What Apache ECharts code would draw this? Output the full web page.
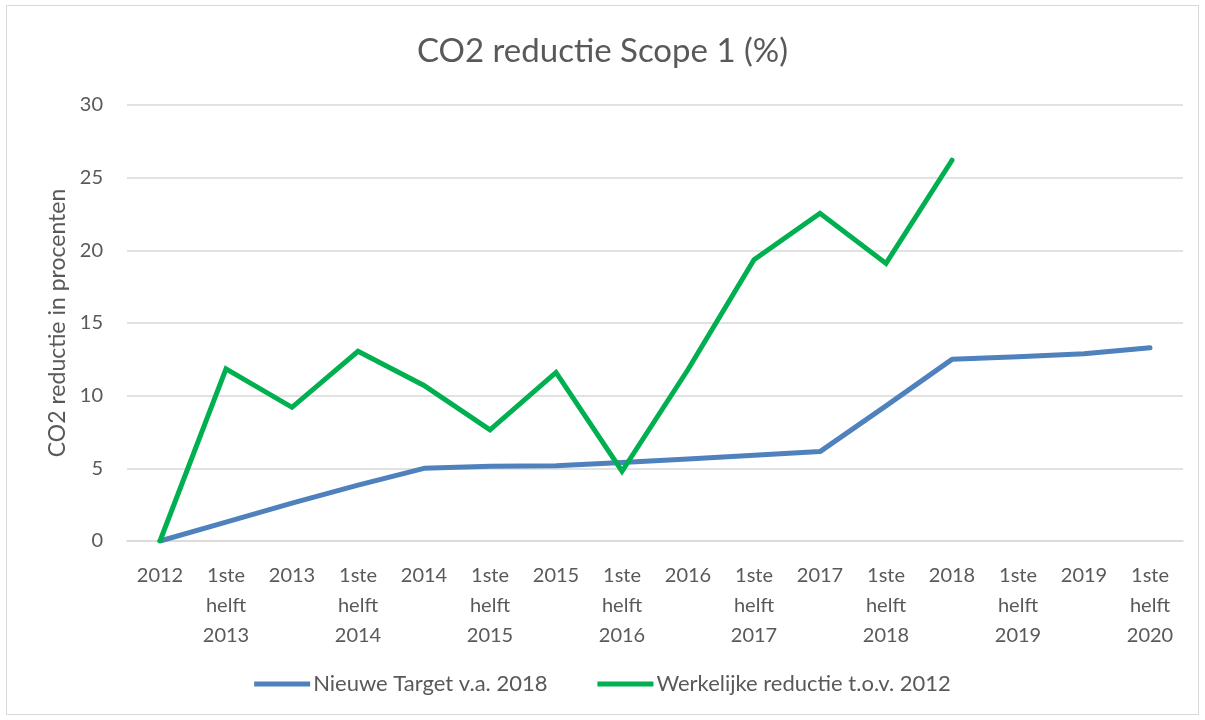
<!DOCTYPE html>
<html>
<head>
<meta charset="utf-8">
<script src="https://cdn.jsdelivr.net/npm/echarts@6/dist/echarts.min.js"></script>
<style>
html,body{margin:0;padding:0;background:#fff;}
#wrap{position:absolute;left:6px;top:5px;width:1193px;height:710px;border:1px solid #d9d9d9;box-sizing:border-box;}
#chart{position:absolute;left:0;top:0;width:1205px;height:720px;}
</style>
</head>
<body>
<div id="wrap"></div>
<div id="chart"></div>
<script>
const categories = ['2012','1ste helft 2013','2013','1ste helft 2014','2014','1ste helft 2015','2015','1ste helft 2016','2016','1ste helft 2017','2017','1ste helft 2018','2018','1ste helft 2019','2019','1ste helft 2020'];
const targetValues = [0, 1.3, 2.6, 3.85, 5.0, 5.15, 5.18, 5.4, 5.65, 5.9, 6.15, 9.3, 12.5, 12.68, 12.88, 13.3];
const actualValues = [0, 11.85, 9.2, 13.05, 10.7, 7.65, 11.6, 4.8, 11.8, 19.35, 22.55, 19.1, 26.2, null, null, null];
const seriesNames = ['Nieuwe Target v.a. 2018', 'Werkelijke reductie t.o.v. 2012'];
const yTicks = [0, 5, 10, 15, 20, 25, 30];

const font = "Lato, 'Open Sans', sans-serif";
const chart = echarts.init(document.getElementById('chart'), null, {renderer: 'canvas'});
chart.setOption({
  animation: false,
  textStyle: {fontFamily: font},
  title: {
    text: 'CO2 reductie Scope 1 (%)',
    left: 'center',
    top: 30,
    textStyle: {fontFamily: font, fontSize: 33, fontWeight: 'normal', color: '#595959'}
  },
  legend: {
    bottom: 20,
    left: 'center',
    itemWidth: 56,
    itemHeight: 5,
    itemGap: 50,
    icon: 'rect',
    textStyle: {fontFamily: font, fontSize: 22, color: '#595959', padding: [0,0,0,-2]},
    data: seriesNames
  },
  grid: {left: 127, right: 22, top: 105, bottom: 179, containLabel: false},
  xAxis: {
    type: 'category',
    data: categories,
    boundaryGap: true,
    axisLine: {lineStyle: {color: '#d9d9d9', width: 1.5}},
    axisTick: {show: false},
    axisLabel: {
      interval: 0,
      fontFamily: font,
      fontSize: 20,
      color: '#595959',
      lineHeight: 30,
      margin: 20,
      formatter: v => v.split(' ').join('\n')
    }
  },
  yAxis: {
    type: 'value',
    min: yTicks[0],
    max: yTicks[yTicks.length - 1],
    interval: 5,
    name: 'CO2 reductie in procenten',
    nameLocation: 'middle',
    nameGap: 58,
    nameTextStyle: {fontFamily: font, fontSize: 23, color: '#595959'},
    axisLine: {show: false},
    axisTick: {show: false},
    splitLine: {lineStyle: {color: '#d9d9d9', width: 1.5}},
    axisLabel: {fontFamily: font, fontSize: 20, color: '#595959', margin: 24}
  },
  series: [
    {
      name: seriesNames[0],
      type: 'line',
      data: targetValues,
      symbol: 'none',
      lineStyle: {color: '#4f81bd', width: 5, cap: 'round', join: 'round'},
      itemStyle: {color: '#4f81bd'}
    },
    {
      name: seriesNames[1],
      type: 'line',
      data: actualValues,
      symbol: 'none',
      connectNulls: false,
      lineStyle: {color: '#00b050', width: 5, cap: 'round', join: 'miter'},
      itemStyle: {color: '#00b050'}
    }
  ]
});
</script>
</body>
</html>
